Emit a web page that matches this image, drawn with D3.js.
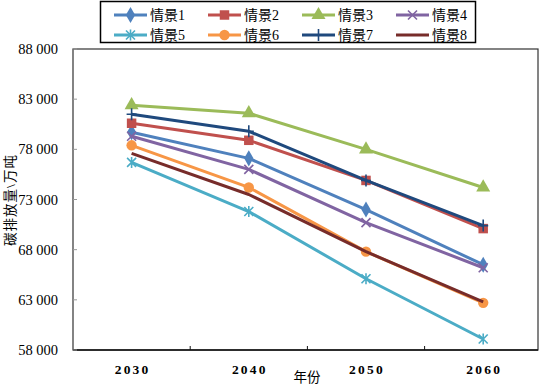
<!DOCTYPE html>
<html lang="zh">
<head>
<meta charset="UTF-8">
<script src="https://d3js.org/d3.v7.min.js"></script>
<style>
  body { margin: 0; background: #fff; }
  text { font-family: "Liberation Serif", "Times New Roman", "Noto Sans CJK SC", serif; fill: #000; }
</style>
</head>
<body>
<svg id="chart" width="543" height="385"></svg>
<script>
// data
const years = ["2030", "2040", "2050", "2060"];
const names = ["情景1", "情景2", "情景3", "情景4", "情景5", "情景6", "情景7", "情景8"];
const s1 = [79700, 77100, 72000, 66500];
const s2 = [80600, 78900, 74900, 70100];
const s3 = [82400, 81600, 78000, 74200];
const s4 = [79300, 76000, 70700, 66200];
const s5 = [76700, 71800, 65100, 59100];
const s6 = [78400, 74200, 67800, 62700];
const s7 = [81500, 79800, 74900, 70400];
const s8 = [77600, 73500, 67800, 62800];
const yTicks = [58000, 63000, 68000, 73000, 78000, 83000, 88000];

const colors = ["#4F81BD", "#C0504D", "#9BBB59", "#8064A2", "#4BACC6", "#F79646", "#1F497D", "#772C2A"];
const markers = ["diamond", "square", "triangle", "x", "star", "circle", "plus", "none"];
const series = [s1, s2, s3, s4, s5, s6, s7, s8].map((v, i) => ({
  name: names[i], values: v, color: colors[i], marker: markers[i]
}));

const svg = d3.select("#chart");
const L = 73, T = 49, R = 538, B = 350;

const x = d3.scaleBand().domain(years).range([L, L + 4 * 117.2]);
const y = d3.scaleLinear().domain([58000, 88000]).range([B, T]);

function drawMarker(g, type, color) {
  if (type === "none") return;
  if (type === "diamond") g.append("path").attr("d", d3.symbol(d3.symbolDiamond, 75)()).attr("fill", color);
  else if (type === "square") g.append("path").attr("d", d3.symbol(d3.symbolSquare, 90)()).attr("fill", color);
  else if (type === "triangle") g.append("path").attr("d", d3.symbol(d3.symbolTriangle, 85)()).attr("fill", color);
  else if (type === "circle") g.append("circle").attr("r", 5.2).attr("fill", color);
  else {
    let d = "";
    const r = 4.5;
    if (type === "x" || type === "star") d += `M${-r},${-r}L${r},${r}M${-r},${r}L${r},${-r}`;
    if (type === "star") d += `M0,${-r - 1}L0,${r + 1}`;
    if (type === "plus") d += `M0,${-6}L0,6M-5,0L5,0`;
    g.append("path").attr("d", d).attr("stroke", color).attr("stroke-width", 1.6).attr("fill", "none");
  }
}

// plot frame
svg.append("rect").attr("x", L).attr("y", T).attr("width", R - L).attr("height", B - T)
  .attr("fill", "none").attr("stroke", "#333").attr("stroke-width", 1.2);
svg.append("line").attr("x1", L).attr("x2", R).attr("y1", B).attr("y2", B)
  .attr("stroke", "#111").attr("stroke-width", 1.6);

// y ticks
yTicks.forEach(t => {
  svg.append("line").attr("x1", L).attr("x2", L + 4).attr("y1", y(t)).attr("y2", y(t))
    .attr("stroke", "#999");
  svg.append("text").attr("x", 58).attr("y", y(t)).attr("dy", "0.35em")
    .attr("text-anchor", "end").attr("font-size", 14.5).text(d3.format(",")(t).replace(",", " "));
});

// x ticks (between categories)
years.slice(1).forEach(c => {
  svg.append("line").attr("x1", x(c)).attr("x2", x(c)).attr("y1", B).attr("y2", B - 4)
    .attr("stroke", "#111");
});
years.forEach(c => {
  svg.append("text").attr("x", x(c) + x.bandwidth() / 2 + 1).attr("y", 369).attr("dy", "0.35em")
    .attr("text-anchor", "middle").attr("font-size", 13.5).attr("font-weight", "bold")
    .attr("letter-spacing", 2.2).text(c);
});

svg.append("text").attr("x", 307).attr("y", 377).attr("dy", "0.35em")
  .attr("text-anchor", "middle").attr("font-size", 13.5).text("年份");
svg.append("text").attr("transform", "translate(10,200) rotate(-90)").attr("dy", "0.35em")
  .attr("text-anchor", "middle").attr("font-size", 13.5).attr("letter-spacing", 1).text("碳排放量\\万吨");

// lines
const line = d3.line().x((d, i) => x(years[i]) + x.bandwidth() / 2).y(d => y(d));
series.forEach(s => {
  svg.append("path").attr("d", line(s.values)).attr("fill", "none")
    .attr("stroke", s.color).attr("stroke-width", 3).attr("stroke-linejoin", "round");
  s.values.forEach((v, i) => {
    const g = svg.append("g").attr("transform", `translate(${x(years[i]) + x.bandwidth() / 2},${y(v)})`);
    drawMarker(g, s.marker, s.color);
  });
});

// legend
svg.append("rect").attr("x", 100.5).attr("y", 1.5).attr("width", 375).attr("height", 41)
  .attr("fill", "#fff").attr("stroke", "#000").attr("stroke-width", 1.5);
series.forEach((s, i) => {
  const col = i % 4, row = Math.floor(i / 4);
  const lx = 114 + col * 94, ly = 15 + row * 20;
  const g = svg.append("g");
  g.append("line").attr("x1", lx).attr("x2", lx + 33).attr("y1", ly).attr("y2", ly)
    .attr("stroke", s.color).attr("stroke-width", 3);
  drawMarker(g.append("g").attr("transform", `translate(${lx + 16.5},${ly})`), s.marker, s.color);
  g.append("text").attr("x", lx + 36).attr("y", ly).attr("dy", "0.38em")
    .attr("font-size", 14).text(s.name);
});
</script>
</body>
</html>
